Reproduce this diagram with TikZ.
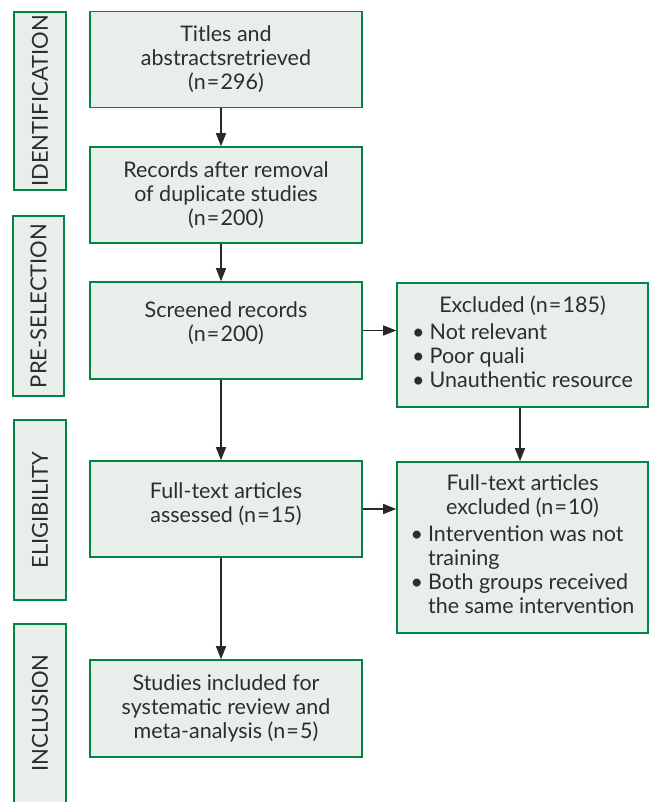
\documentclass[tikz,border=0pt]{standalone}
\usepackage{fontspec}
\setmainfont{Lato}
\usetikzlibrary{arrows.meta}
\definecolor{boxgreen}{RGB}{0,133,68}
\definecolor{boxfill}{RGB}{232,238,233}
\definecolor{txt}{RGB}{45,45,45}
\definecolor{arr}{RGB}{40,40,40}
\newcommand{\eqsign}{\hspace{1.2pt}=\hspace{1.2pt}}
\tikzset{
  mainbox/.style={draw=boxgreen, fill=boxfill, line width=1.6pt, text=txt,
    font=\fontsize{21.5}{24}\selectfont, align=center, inner sep=0pt},
  sidebox/.style={draw=boxgreen, fill=boxfill, line width=1.6pt, text=txt, inner sep=0pt},
  sidelabel/.style={text=txt, font=\fontsize{22}{24}\selectfont, rotate=90},
  flow/.style={draw=arr, line width=1.3pt, -{Triangle[length=13pt,width=10pt]}}
}
\begin{document}
\begin{tikzpicture}[x=1pt,y=-1pt]
\useasboundingbox (0,0) rectangle (651,802);
% side labels
\node[sidebox, minimum width=52pt, minimum height=178pt] (sid) at (40,101) {};
\node[sidelabel] at (sid.center) {IDENTIFICATION};
\node[sidebox, minimum width=51pt, minimum height=180pt] (spre) at (38.5,306) {};
\node[sidelabel] at (spre.center) {PRE-SELECTION};
\node[sidebox, minimum width=52pt, minimum height=180pt] (sel) at (40,510) {};
\node[sidelabel] at (sel.center) {ELIGIBILITY};
\node[sidebox, minimum width=52pt, minimum height=190pt] (sinc) at (40,719) {};
\node[sidelabel] at (40,713) {INCLUSION};
% main boxes
\node[mainbox, minimum width=272pt, minimum height=96pt] (b1) at (226,59.5)
  {Titles and\\abstractsretrieved\\(n\eqsign 296)};
\node[mainbox, minimum width=272pt, minimum height=96pt] (b2) at (226,195)
  {Records after removal\\of duplicate studies\\(n\eqsign 200)};
\node[mainbox, minimum width=272pt, minimum height=97pt] (b3) at (226,330.5)
  {Screened records\\(n\eqsign 200)\rule[-17pt]{0pt}{17pt}};
\node[mainbox, minimum width=272pt, minimum height=96pt] (b4) at (226,509)
  {Full-text articles\\assessed (n\eqsign 15)\rule[-13pt]{0pt}{13pt}};
\node[mainbox, minimum width=272pt, minimum height=97pt] (b5) at (226,708.5)
  {Studies included for\\systematic review and\\meta-analysis (n\eqsign 5)};
% exclusion boxes
\node[mainbox, minimum width=251pt, minimum height=124pt] (e1) at (522.5,345)
  {\begin{tabular}{@{}l@{\hspace{5pt}}l@{}}
   \multicolumn{2}{c}{Excluded (n\eqsign 185)}\\[3pt]
   \textbullet & Not relevant\\
   \textbullet & Poor quali\\
   \textbullet & Unauthentic resource
   \end{tabular}};
\node[mainbox, minimum width=251pt, minimum height=171pt] (e2) at (522.5,547.5)
  {\begin{tabular}{@{}l@{\hspace{5pt}}l@{}}
   \multicolumn{2}{c}{Full-text articles}\\
   \multicolumn{2}{c}{excluded (n\eqsign 10)}\\[3pt]
   \textbullet & Intervention was not\\
    & training\\
   \textbullet & Both groups received\\
    & the same intervention
   \end{tabular}};
% arrows
\draw[flow] (b1.south -| 221,0) -- (b2.north -| 221,0);
\draw[flow] (b2.south -| 221,0) -- (b3.north -| 221,0);
\draw[flow] (b3.south -| 221,0) -- (b4.north -| 221,0);
\draw[flow] (b4.south -| 221,0) -- (b5.north -| 221,0);
\draw[flow] (b3.east) -- (b3.east -| e1.west);
\draw[flow] (b4.east) -- (b4.east -| e2.west);
\draw[flow] (e1.south -| 520,0) -- (e2.north -| 520,0);
\end{tikzpicture}
\end{document}
